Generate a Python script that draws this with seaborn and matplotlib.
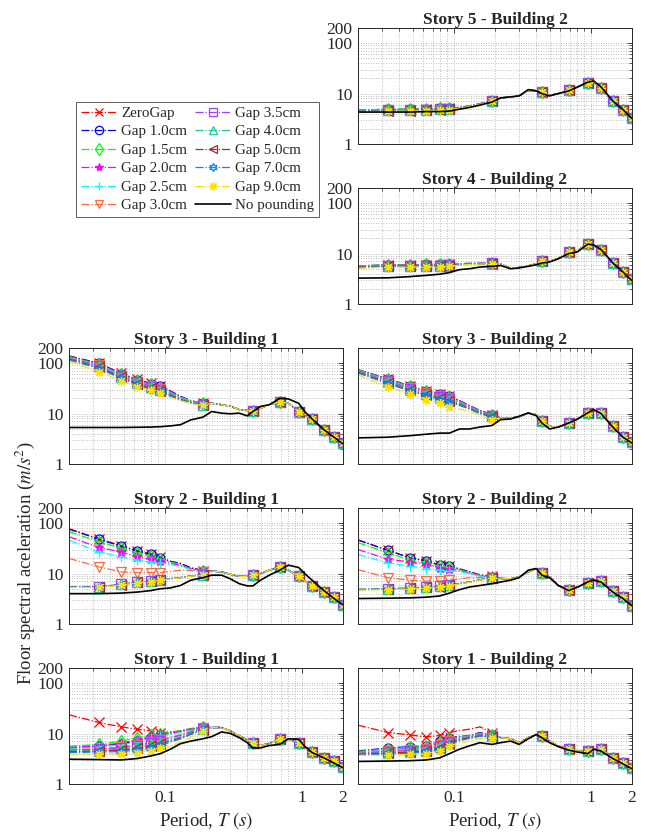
import matplotlib
matplotlib.use("Agg")
import matplotlib.pyplot as plt
import seaborn as sns
from matplotlib.lines import Line2D
from matplotlib.ticker import FixedLocator, NullFormatter, LogLocator

# ---------------- data ----------------
PERIOD = [0.02, 0.033, 0.048, 0.063, 0.079, 0.093, 0.11, 0.13, 0.155, 0.19,
          0.22, 0.26, 0.3, 0.35, 0.4, 0.44, 0.5, 0.58, 0.69, 0.8, 0.95, 1.05,
          1.19, 1.45, 1.72, 2.0]
MARK_IDX = [1, 2, 3, 4, 5, 9, 15, 18, 20, 22, 23, 24, 25]

GAP_LABELS = ["ZeroGap", "Gap 1.0cm", "Gap 1.5cm", "Gap 2.0cm", "Gap 2.5cm",
              "Gap 3.0cm", "Gap 3.5cm", "Gap 4.0cm", "Gap 5.0cm", "Gap 7.0cm",
              "Gap 9.0cm"]
NOPOUND_LABEL = "No pounding"

Y_TICKS = [1, 10, 100, 200]
Y_TICK_LABELS = ["1", "10", "100", "200"]
X_TICKS = [0.1, 1, 2]
X_TICK_LABELS = ["0.1", "1", "2"]

# Story 5 - Building 2 (short-period part of each gap series, shared long-period part)
S5B2_HEADS = [
    [4.6, 4.8, 4.8, 4.9, 5.0, 5.1, 5.3, 5.7, 6.3, 7.2],
    [4.7, 4.9, 4.9, 5.0, 5.1, 5.2, 5.3, 5.7, 6.3, 7.2],
    [4.7, 4.9, 4.9, 5.0, 5.1, 5.2, 5.3, 5.7, 6.3, 7.2],
    [4.6, 4.8, 4.8, 4.9, 5.0, 5.1, 5.3, 5.7, 6.3, 7.1],
    [4.6, 4.8, 4.8, 4.9, 5.0, 5.1, 5.3, 5.6, 6.2, 7.1],
    [4.5, 4.7, 4.7, 4.8, 4.9, 5.0, 5.2, 5.6, 6.2, 7.1],
    [4.5, 4.7, 4.7, 4.8, 4.9, 5.0, 5.2, 5.6, 6.2, 7.1],
    [4.5, 4.7, 4.7, 4.8, 4.9, 5.0, 5.2, 5.6, 6.2, 7.0],
    [4.4, 4.6, 4.6, 4.7, 4.8, 4.9, 5.2, 5.5, 6.1, 7.0],
    [4.4, 4.6, 4.6, 4.7, 4.8, 4.9, 5.1, 5.5, 6.1, 7.0],
    [4.3, 4.5, 4.5, 4.6, 4.7, 4.8, 5.1, 5.5, 6.1, 7.0],
]
S5B2_TAIL = [8.2, 8.6, 9.0, 11.5, 11.5, 10.8, 9.2, 10.0, 11.8, 13.5, 16.5, 17.0,
             12.8, 7.1, 4.8, 3.3]
S5B2_NOPOUND = [4.3, 4.3, 4.3, 4.4, 4.4, 4.5, 4.9, 5.3, 5.9, 6.8, 8.2, 8.6, 9.0,
                12.0, 11.3, 10.0, 9.0, 10.0, 11.3, 13.5, 16.8, 17.8, 13.5, 7.1,
                4.8, 3.2]

# Story 4 - Building 2
S4B2_HEADS = [
    [5.6, 5.9, 5.9, 6.0, 6.0, 6.1, 6.2, 6.3, 6.4, 6.4],
    [5.7, 6.0, 6.0, 6.1, 6.1, 6.2, 6.3, 6.4, 6.4, 6.4],
    [5.7, 6.0, 6.0, 6.1, 6.1, 6.2, 6.3, 6.4, 6.4, 6.4],
    [5.6, 5.9, 5.9, 6.0, 6.0, 6.1, 6.2, 6.3, 6.4, 6.4],
    [5.5, 5.8, 5.8, 5.9, 5.9, 6.0, 6.2, 6.3, 6.3, 6.4],
    [5.4, 5.7, 5.7, 5.8, 5.8, 5.9, 6.1, 6.2, 6.3, 6.4],
    [5.4, 5.7, 5.7, 5.8, 5.8, 5.9, 6.1, 6.2, 6.3, 6.4],
    [5.3, 5.6, 5.6, 5.7, 5.7, 5.8, 6.0, 6.2, 6.3, 6.3],
    [5.3, 5.6, 5.6, 5.7, 5.7, 5.8, 6.0, 6.2, 6.3, 6.3],
    [5.2, 5.5, 5.5, 5.6, 5.6, 5.7, 6.0, 6.1, 6.2, 6.3],
    [5.1, 5.4, 5.4, 5.5, 5.5, 5.6, 5.9, 6.1, 6.2, 6.3],
]
S4B2_TAIL = [6.2, 5.1, 5.3, 5.7, 6.3, 7.0, 7.0, 8.0, 10.8, 11.5, 15.4, 14.5,
             11.8, 6.5, 4.3, 3.1]
S4B2_NOPOUND = [3.26, 3.3, 3.5, 3.7, 3.9, 4.2, 4.8, 5.0, 5.4, 5.6, 5.8, 5.0, 5.2,
                5.6, 6.0, 6.5, 6.8, 7.9, 10.0, 10.8, 15.4, 14.8, 12.0, 6.5, 4.3,
                2.9]

# Story 3 - Building 1
S3B1_HEADS = [
    [140, 100, 63, 48, 40, 35.6, 28, 22, 18, 16],
    [138, 99, 62, 47, 39, 35, 28, 22, 18, 16],
    [135, 96, 60, 46, 38, 34, 27, 21, 18, 16],
    [132, 94, 59, 45, 37, 33, 27, 21, 17.5, 15.5],
    [130, 92, 58, 44, 36, 32, 26, 21, 17.5, 15.5],
    [128, 90, 56, 43, 35, 31, 25, 20, 17, 15],
    [126, 88, 55, 42, 34, 30, 25, 20, 17, 15],
    [124, 86, 54, 41, 33, 29.5, 24, 20, 17, 15],
    [120, 83, 52, 39, 32, 28.5, 23, 19, 16.5, 15],
    [116, 78, 50, 37, 30, 27, 22, 18.5, 16, 14.5],
    [108, 68, 45, 34, 29, 25.5, 21, 18, 16, 14.5],
]
S3B1_TAIL = [16, 15, 14, 12, 11.5, 11.4, 12.8, 15, 17, 16, 11, 9.5, 7.8, 4.8,
             3.5, 2.6]
S3B1_NOPOUND = [5.3, 5.3, 5.3, 5.35, 5.4, 5.5, 5.7, 6.0, 7.5, 8.5, 11, 10.2,
                9.9, 10.2, 9.0, 11, 13.9, 15, 20, 19.5, 16, 11, 7.8, 4.8, 3.4,
                2.5]

# Story 3 - Building 2
S3B2_HEADS = [
    [74, 49, 35, 28, 24, 22, 18, 14.4, 11.5, 9.5],
    [74, 49, 35, 28, 24, 22, 18, 14.4, 11.5, 9.5],
    [73, 48, 34.5, 27.5, 23.5, 21.5, 17.5, 14, 11.3, 9.4],
    [72, 47, 34, 27, 23, 21, 17, 14, 11.2, 9.3],
    [71, 46, 33, 26.5, 22.5, 20.5, 17, 13.8, 11, 9.2],
    [70, 45, 32, 26, 22, 20, 16.5, 13.5, 10.8, 9.0],
    [69, 44, 31, 25, 21, 19.5, 16, 13.2, 10.6, 8.9],
    [68, 43, 30, 24.5, 20.5, 19, 15.5, 13, 10.4, 8.8],
    [66, 41, 29, 23.5, 20, 18, 15, 12.6, 10.2, 8.6],
    [64, 39, 28, 22.5, 19, 17, 14.5, 12.3, 10, 8.4],
    [59, 34, 25, 19, 16.3, 13.5, 12.3, 11.1, 9.2, 7.6],
]
S3B2_TAIL = [8.2, 8.2, 8.6, 10.3, 9.5, 7.0, 5.6, 5.4, 6.5, 7.8, 10.3, 11.6,
             10.3, 5.6, 3.5, 2.7]
S3B2_NOPOUND = [3.3, 3.4, 3.65, 3.9, 4.1, 4.1, 4.95, 4.95, 5.4, 5.8, 7.6, 7.8,
                8.85, 10.3, 9.1, 6.5, 4.95, 5.4, 6.5, 7.8, 10.3, 12.0, 10.0,
                5.4, 3.4, 2.6]

# Story 2 - Building 1
S2B1_HEADS = [
    [78, 49, 36, 28.5, 24.5, 21, 17.5, 16, 13, 11.5],
    [76, 48, 35, 28, 24, 20.5, 17.5, 15.8, 13, 11.5],
    [68, 43, 32, 26, 22, 19.5, 17, 15, 12.5, 11.3],
    [54, 33, 27, 21.5, 19.3, 17.9, 16, 14.5, 12.5, 11.2],
    [46, 27, 21.5, 18.5, 17, 16.3, 15, 14, 12, 11],
    [20, 13.6, 10.8, 10.5, 10.5, 10.5, 11, 11.7, 11.5, 11],
    [5.5, 5.5, 6.1, 6.8, 7.1, 7.6, 8, 8.3, 9, 9.5],
    [5.5, 5.5, 6.1, 6.8, 7.1, 7.6, 8, 8.3, 9, 9.5],
    [5.4, 5.4, 6.0, 6.7, 7.0, 7.5, 7.9, 8.3, 9, 9.4],
    [5.4, 5.4, 6.0, 6.7, 7.0, 7.5, 7.9, 8.3, 9, 9.4],
    [5.3, 5.3, 5.9, 6.6, 6.9, 7.4, 7.8, 8.2, 8.9, 9.3],
]
S2B1_TAIL = [11.2, 10.8, 9.7, 8.8, 8.8, 9.3, 10, 11.7, 13.6, 11.7, 8.8, 7.2,
             5.8, 4.3, 3.4, 2.4]
S2B1_NOPOUND = [4.0, 4.0, 4.1, 4.3, 4.6, 5.0, 5.2, 5.8, 7.4, 8.3, 9.3, 9.3, 7.9,
                6.3, 5.7, 5.7, 7.4, 9.3, 11.7, 14.7, 13.2, 10, 7.4, 4.6, 3.2,
                2.4]

# Story 2 - Building 2
S2B2_HEADS = [
    [47, 29, 20.5, 17.9, 14.7, 14, 12.5, 11, 9.5, 8.8],
    [46, 29, 20.5, 17.9, 14.7, 14, 12.3, 10.8, 9.3, 8.5],
    [41, 26, 18.5, 16.5, 14, 13.3, 12, 10.5, 9.2, 8.5],
    [30, 19.3, 17, 15.4, 13.2, 12.6, 11.5, 10.2, 9.0, 8.4],
    [24, 16.3, 14, 12.6, 11.7, 11.5, 11, 10, 8.9, 8.3],
    [12, 8.3, 7.4, 7.1, 7.1, 7.4, 7.8, 8.3, 8.3, 8.3],
    [4.9, 5.0, 5.2, 5.4, 5.6, 6.0, 6.4, 6.8, 7.5, 8.2],
    [4.9, 5.0, 5.2, 5.4, 5.6, 6.0, 6.4, 6.8, 7.5, 8.2],
    [4.8, 4.9, 5.1, 5.3, 5.5, 5.9, 6.3, 6.8, 7.5, 8.2],
    [4.8, 4.9, 5.1, 5.3, 5.5, 5.9, 6.3, 6.8, 7.5, 8.2],
    [4.7, 4.8, 5.0, 5.2, 5.4, 5.8, 6.2, 6.7, 7.4, 8.1],
]
S2B2_TAIL = [8.0, 7.9, 8.6, 10.8, 12.6, 10.3, 8.6, 5.8, 4.8, 5.4, 6.6, 7.4, 7.1,
             4.6, 3.4, 2.3]
S2B2_NOPOUND = [3.2, 3.25, 3.3, 3.4, 3.6, 4.1, 4.8, 5.4, 5.8, 6.3, 6.8, 7.4, 8.3,
                11.7, 12.6, 9.3, 8.3, 5.8, 4.6, 5.4, 6.8, 7.4, 6.8, 4.3, 3.2,
                2.3]

# Story 1 - Building 1
S1B1_HEADS = [
    [23.6, 16.6, 13.6, 12.2, 11.3, 10.5, 10.8, 11.3, 12.6, 13.2],
    [5.2, 5.6, 6.3, 7.2, 8.5, 9.5, 10.2, 11, 12, 13.5],
    [5.6, 6.1, 7.1, 8.3, 9.4, 10, 10.6, 11.3, 12.3, 13.8],
    [5.3, 5.8, 6.5, 7.6, 8.8, 9.6, 10.3, 11, 12, 13.5],
    [5.0, 5.4, 6.0, 6.8, 8.0, 8.8, 9.6, 10.5, 11.5, 13],
    [4.8, 5.0, 5.4, 6.0, 6.8, 7.6, 8.5, 9.5, 11, 12.8],
    [4.7, 4.9, 5.2, 5.8, 6.5, 7.2, 8.2, 9.2, 10.8, 12.6],
    [4.5, 4.6, 4.9, 5.4, 6.0, 6.6, 7.6, 8.6, 10.3, 12.3],
    [4.4, 4.5, 4.7, 5.1, 5.6, 6.2, 7.2, 8.2, 10, 12],
    [4.2, 4.3, 4.4, 4.7, 5.1, 5.7, 6.8, 7.8, 9.6, 11.8],
    [3.9, 3.9, 4.0, 4.2, 4.5, 5.1, 5.8, 6.6, 8.5, 11.3],
]
S1B1_TAIL = [13.2, 13.2, 11.3, 9.0, 7.5, 6.6, 5.8, 6.4, 7.7, 7.7, 6.6, 5.5, 4.3,
             3.3, 2.9, 2.2]
S1B1_NOPOUND = [3.1, 3.05, 3.0, 3.2, 3.6, 4.0, 4.9, 6.3, 7.1, 7.9, 8.7, 10.8,
                10.1, 8.3, 6.6, 5.2, 5.2, 5.8, 6.1, 7.9, 7.7, 5.6, 4.2, 3.3, 2.6,
                2.1]

# Story 1 - Building 2
S1B2_HEADS = [
    [14.7, 10.5, 9.4, 8.6, 9.2, 10.5, 11.5, 12.2, 13.6, 10.5],
    [4.5, 5.2, 5.5, 5.7, 7.1, 8.3, 8.8, 9.2, 10.5, 9.2],
    [4.4, 5.0, 5.3, 5.6, 6.8, 8.0, 8.6, 9.1, 10.2, 9.2],
    [4.3, 4.8, 5.1, 5.4, 6.5, 7.8, 8.5, 9.0, 10, 9.1],
    [4.2, 4.7, 5.0, 5.2, 6.2, 7.5, 8.3, 8.9, 9.8, 9.0],
    [4.1, 4.5, 4.8, 5.0, 5.9, 7.2, 8.1, 8.8, 9.6, 9.0],
    [4.0, 4.4, 4.6, 4.8, 5.6, 6.9, 7.9, 8.6, 9.4, 8.9],
    [3.9, 4.2, 4.4, 4.6, 5.3, 6.6, 7.7, 8.5, 9.2, 8.8],
    [3.9, 4.1, 4.3, 4.5, 5.1, 6.3, 7.5, 8.3, 9.0, 8.7],
    [3.8, 3.9, 4.1, 4.3, 4.8, 6.0, 7.2, 8.0, 8.8, 8.5],
    [3.7, 3.7, 3.9, 4.0, 4.5, 5.7, 6.5, 7.1, 8.0, 8.3],
]
S1B2_TAIL = [8.3, 7.9, 6.6, 8.3, 9.6, 9.0, 7.1, 5.7, 4.9, 4.5, 4.5, 4.9, 4.9,
             3.3, 2.6, 2.1]
S1B2_NOPOUND = [2.8, 2.85, 2.9, 3.0, 3.3, 4.0, 4.9, 5.7, 6.6, 6.1, 6.6, 7.1, 6.1,
                7.9, 9.6, 8.3, 6.6, 5.5, 4.7, 4.3, 4.0, 4.9, 4.5, 3.2, 2.5, 2.0]

PANELS = [
    ("Story 5 - Building 2", 0, 1, S5B2_HEADS, S5B2_TAIL, S5B2_NOPOUND),
    ("Story 4 - Building 2", 1, 1, S4B2_HEADS, S4B2_TAIL, S4B2_NOPOUND),
    ("Story 3 - Building 1", 2, 0, S3B1_HEADS, S3B1_TAIL, S3B1_NOPOUND),
    ("Story 3 - Building 2", 2, 1, S3B2_HEADS, S3B2_TAIL, S3B2_NOPOUND),
    ("Story 2 - Building 1", 3, 0, S2B1_HEADS, S2B1_TAIL, S2B1_NOPOUND),
    ("Story 2 - Building 2", 3, 1, S2B2_HEADS, S2B2_TAIL, S2B2_NOPOUND),
    ("Story 1 - Building 1", 4, 0, S1B1_HEADS, S1B1_TAIL, S1B1_NOPOUND),
    ("Story 1 - Building 2", 4, 1, S1B2_HEADS, S1B2_TAIL, S1B2_NOPOUND),
]

# ---------------- style ----------------
COLORS = ["#ff0000", "#0000ff", "#00ff00", "#ff00ff", "#00ffff", "#ff6a3d",
          "#a040ff", "#1fcf9a", "#a52a2a", "#0a84ff", "#ffe000"]
MARKERS = ["x", "o", "d", "*", "+", "v", "s", "^", "<", (6, 1, 0), (8, 2, 0)]
FILLED = [False, False, False, True, False, False, False, False, False, False, False]

sns.set_theme(style="white")
plt.rcParams["font.family"] = ["Liberation Serif", "DejaVu Serif"]
plt.rcParams["mathtext.fontset"] = "stix"

W, H = 645, 834
fig = plt.figure(figsize=(W / 100, H / 100), dpi=100)
fig.patch.set_facecolor("white")

COL_X = [69, 358]
ROW_TOP = [28, 188, 348, 508, 668]
AX_W, AX_H = 274, 116

def style_kw(i, ms=6.5):
    c = COLORS[i]
    return dict(color=c, linestyle="-.", linewidth=0.9, marker=MARKERS[i],
                markersize=ms, markeredgecolor=c,
                markerfacecolor=c if FILLED[i] else "none",
                markeredgewidth=0.9)

for title, row, col, heads, tail, nopound in PANELS:
    ax = fig.add_axes([COL_X[col] / W, 1 - (ROW_TOP[row] + AX_H) / H, AX_W / W, AX_H / H])
    for i, head in enumerate(heads):
        vals = list(head) + list(tail)
        sns.lineplot(x=PERIOD, y=vals, ax=ax, legend=False, estimator=None,
                     sort=False, markevery=MARK_IDX, zorder=2 + i * 0.01,
                     **style_kw(i))
    sns.lineplot(x=PERIOD, y=nopound, ax=ax, legend=False, estimator=None,
                 sort=False, color="black", linewidth=1.2, linestyle="-", zorder=3)
    ax.set_xscale("log")
    ax.set_yscale("log")
    ax.set_xlim(0.02, 2)
    ax.set_ylim(1, 200)
    ax.set_title(title, fontsize=12.5, fontweight="bold", pad=3)
    ax.yaxis.set_major_locator(FixedLocator(Y_TICKS))
    ax.yaxis.set_minor_locator(LogLocator(base=10, subs=range(2, 10)))
    ax.xaxis.set_major_locator(FixedLocator(X_TICKS))
    ax.xaxis.set_minor_locator(LogLocator(base=10, subs=range(2, 10)))
    ax.xaxis.set_minor_formatter(NullFormatter())
    ax.yaxis.set_minor_formatter(NullFormatter())
    if row == 4:
        ax.set_xticklabels(X_TICK_LABELS)
        ax.set_xlabel("Period, $T$ $(s)$", fontsize=13.5, labelpad=3)
    else:
        ax.set_xticklabels([])
        ax.set_xlabel("")
    if col == 0 or row < 2:
        ax.set_yticklabels(Y_TICK_LABELS)
        for lab in ax.get_yticklabels():
            lab.set_verticalalignment("center_baseline")
    else:
        ax.set_yticklabels([])
    ax.set_ylabel("")
    ax.grid(True, which="both", linestyle=(0, (1, 2)), color="#a8a8a8", linewidth=0.6)
    ax.tick_params(which="both", direction="in", top=True, right=True,
                   labelsize=12.5, colors="#262626", pad=4)
    ax.tick_params(which="major", length=3.5, width=0.6)
    ax.tick_params(which="minor", length=2, width=0.5)
    for s in ax.spines.values():
        s.set_color("#262626")
        s.set_linewidth(0.7)

fig.text(25 / W, 1 - 563 / H, "Floor spectral aceleration ($m/s^2$)",
         rotation=90, ha="center", va="center", fontsize=13.5)

handles = [Line2D([], [], label=GAP_LABELS[i], **style_kw(i, ms=6)) for i in range(len(GAP_LABELS))]
handles.append(Line2D([], [], color="black", linewidth=1.2, label=NOPOUND_LABEL))
leg = fig.legend(handles=handles, ncol=2, loc="upper left",
                 bbox_to_anchor=(76 / W, 1 - 102 / H), fontsize=10.8,
                 frameon=True, fancybox=False, edgecolor="#333333",
                 handlelength=2.4, handletextpad=0.3, columnspacing=0.5,
                 labelspacing=0.33, borderpad=0.3, borderaxespad=0)
leg.get_frame().set_linewidth(0.7)

fig.savefig("out.png", dpi=100, facecolor="white")
